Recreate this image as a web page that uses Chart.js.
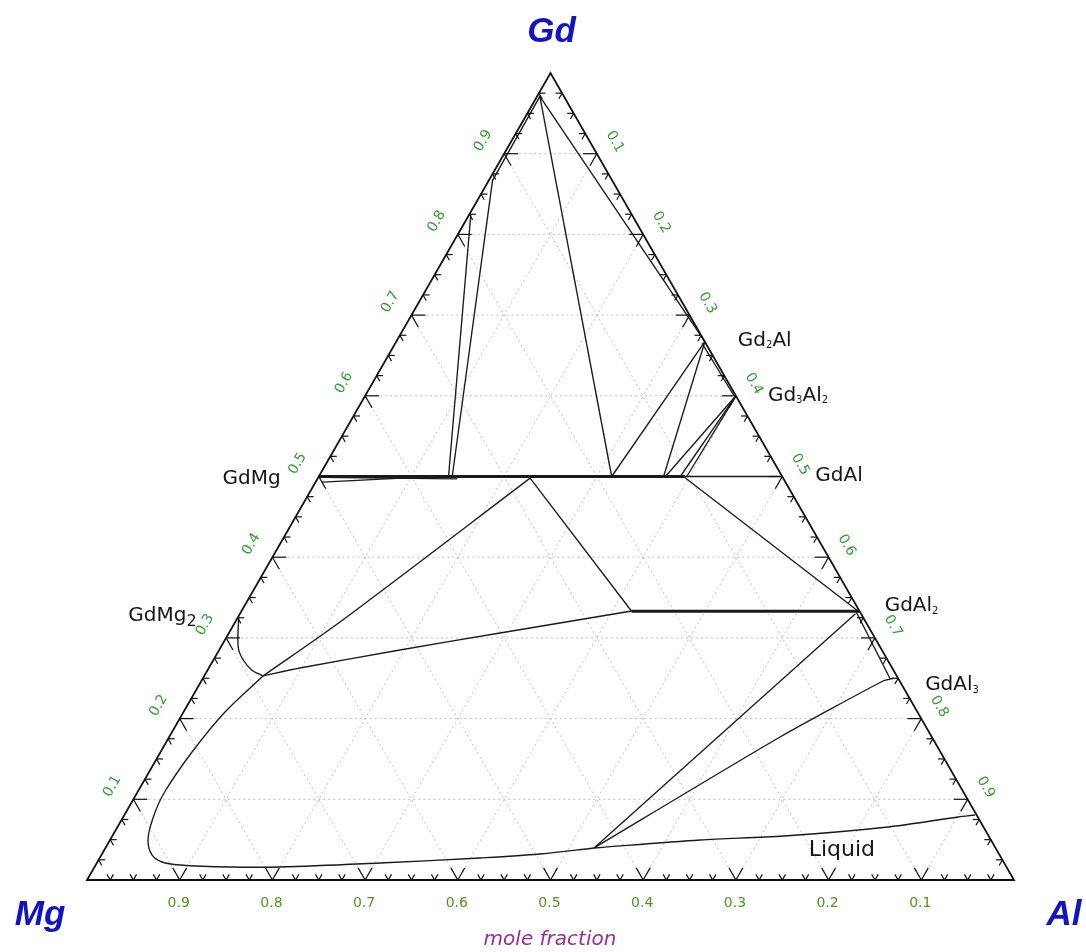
<!DOCTYPE html>
<html>
<head>
<meta charset="utf-8">
<script src="https://cdn.jsdelivr.net/npm/chart.js@4.4.0/dist/chart.umd.min.js"></script>
<style>
html, body { margin: 0; padding: 0; background: #fff; }
</style>
</head>
<body>
<canvas id="chart" width="1086" height="952"></canvas>
<script>
// Compositions are [x(Al), x(Gd)] mole fractions, x(Mg) = 1 - Al - Gd

// Compounds
const gdMg = [0, 0.5];
const gdMg2 = [0, 0.333];
const gd2Al = [0.333, 0.667];
const gd3Al2 = [0.4, 0.6];
const gdAl = [0.5, 0.5];
const gdAl2 = [0.667, 0.333];
const gdAl3 = [0.75, 0.25];
const liquidLabel = [0.76, 0.037];

// Thick tie lines
const tieHalf = [[0, 0.5], [0.395, 0.5]];
const tieThird = [[0.421, 0.333], [0.667, 0.333]];

// Thin boundary lines
const tieHalfTail = [[0.395, 0.5], [0.5, 0.5]];
const gdCornerA = [[0.002, 0.824], [0.140, 0.5]];
const gdCornerB = [[0.003, 0.972], [0.004, 0.867], [0.144, 0.5]];
const gdCornerC = [[0.003, 0.971], [0.316, 0.5]];
const gdCornerD = [[0.003, 0.971], [0.333, 0.667]];
const gd2AlFanA = [[0.333, 0.667], [0.316, 0.5]];
const gd2AlFanB = [[0.333, 0.667], [0.372, 0.5]];
const gd2AlEdge = [[0.331, 0.665], [0.397, 0.601]];
const gd3Al2FanA = [[0.4, 0.6], [0.374, 0.5]];
const gd3Al2FanB = [[0.4, 0.6], [0.390, 0.5]];
const gd3Al2FanC = [[0.4, 0.6], [0.397, 0.5]];
const gdMgFanA = [[0.001, 0.499], [0.151, 0.497]];
const gdMgFanB = [[0.007, 0.493], [0.106, 0.499]];
const halfToGdAl2 = [[0.395, 0.499], [0.664, 0.334]];
const halfToThird = [[0.229, 0.498], [0.421, 0.333]];
const gdMg2Curve = [[0.001, 0.325], [0.0195, 0.2875], [0.0323, 0.2726], [0.0476, 0.2602], [0.0635, 0.2528]];
const upperBranch = [[0.0635, 0.2528], [0.113, 0.3197], [0.229, 0.498]];
const lowerBranch = [[0.0635, 0.2528], [0.0984, 0.2627], [0.1951, 0.285], [0.2925, 0.3061], [0.421, 0.3333]];
const liquidusMg = [
    [0.0635, 0.2528], [0.0448, 0.2082], [0.034, 0.1586], [0.0292, 0.1078],
    [0.0328, 0.0768], [0.041, 0.0496], [0.0546, 0.031], [0.0697, 0.0223],
    [0.091, 0.0186], [0.1462, 0.0161], [0.2001, 0.0161], [0.3055, 0.0211],
    [0.4103, 0.0273], [0.4726, 0.0322], [0.5271, 0.0397]
];
const liquidusAl = [
    [0.5271, 0.0397], [0.6365, 0.0496], [0.7246, 0.0545], [0.8313, 0.0657],
    [0.9006, 0.0781], [0.9177, 0.0805]
];
const junctionToGdAl2 = [[0.5271, 0.0397], [0.664, 0.33]];
const junctionToGdAl3 = [[0.5271, 0.0397], [0.659, 0.1772], [0.7354, 0.2466], [0.745, 0.25]];
const gdAl2Edge = [[0.662, 0.334], [0.742, 0.249]];

// Axis ticks
const tickStep = 0.025;
const labelValues = [0.1, 0.2, 0.3, 0.4, 0.5, 0.6, 0.7, 0.8, 0.9];

function toXY(p) {
    return { x: p[0] + p[1] / 2, y: p[1] };
}

function line(points, width, tension) {
    return {
        data: points.map(toXY),
        showLine: true,
        borderColor: '#1a1a1a',
        borderWidth: width || 1.35,
        pointRadius: 0,
        pointHoverRadius: 0,
        tension: tension || 0,
        fill: false,
        clip: false
    };
}

// pixel position of a composition
function pos(chart, al, gd) {
    return [chart.scales.x.getPixelForValue(al + gd / 2), chart.scales.y.getPixelForValue(gd)];
}

function seg(ctx, chart, a, b) {
    const p = pos(chart, a[0], a[1]);
    const q = pos(chart, b[0], b[1]);
    ctx.beginPath();
    ctx.moveTo(p[0], p[1]);
    ctx.lineTo(q[0], q[1]);
    ctx.stroke();
}

function drawRich(ctx, parts, x, y, align) {
    ctx.textAlign = 'left';
    let w = 0;
    parts.forEach(p => {
        ctx.font = p[1] + 'px "DejaVu Sans"';
        w += ctx.measureText(p[0]).width;
    });
    let cx = align === 'right' ? x - w : x;
    parts.forEach(p => {
        ctx.font = p[1] + 'px "DejaVu Sans"';
        ctx.fillText(p[0], cx, y + (p[2] || 0));
        cx += ctx.measureText(p[0]).width;
    });
}

const phaseLabels = [
    { at: gd2Al, dx: 33, dy: -1, align: 'left', parts: [['Gd', 20], ['2', 10, 5], ['Al', 20]] },
    { at: gd3Al2, dx: 32, dy: 0, align: 'left', parts: [['Gd', 20], ['3', 10, 5], ['Al', 20], ['2', 10, 5]] },
    { at: gdAl, dx: 33, dy: -1, align: 'left', parts: [['GdAl', 20]] },
    { at: gdMg, dx: -38, dy: 2, align: 'right', parts: [['GdMg', 20]] },
    { at: gdMg2, dx: -113, dy: 5, align: 'left', parts: [['GdMg', 20], ['2', 16, 6]] },
    { at: gdAl2, dx: 25, dy: -5, align: 'left', parts: [['GdAl', 20], ['2', 10, 5]] },
    { at: gdAl3, dx: 27, dy: 7, align: 'left', parts: [['GdAl', 20], ['3', 10, 5]] },
    { at: liquidLabel, dx: 0, dy: 0, align: 'left', parts: [['Liquid', 22]] }
];

const ternaryPlugin = {
    id: 'ternary',
    beforeDatasetsDraw(chart) {
        const ctx = chart.ctx;
        ctx.save();
        ctx.strokeStyle = '#bdbdbd';
        ctx.lineWidth = 1;
        ctx.setLineDash([2, 3]);
        labelValues.forEach(v => {
            seg(ctx, chart, [0, v], [1 - v, v]);
            seg(ctx, chart, [v, 0], [v, 1 - v]);
            seg(ctx, chart, [1 - v, 0], [0, 1 - v]);
        });
        ctx.restore();
    },
    afterDatasetsDraw(chart) {
        const ctx = chart.ctx;
        ctx.save();
        // triangle
        ctx.strokeStyle = '#111';
        ctx.lineWidth = 1.8;
        ctx.lineJoin = 'miter';
        const a = pos(chart, 0, 0), b = pos(chart, 1, 0), c = pos(chart, 0, 1);
        ctx.beginPath();
        ctx.moveTo(a[0], a[1]);
        ctx.lineTo(b[0], b[1]);
        ctx.lineTo(c[0], c[1]);
        ctx.closePath();
        ctx.stroke();

        // ticks
        ctx.lineWidth = 1.2;
        for (let i = 1; i < 40; i++) {
            const v = i * tickStep;
            const L = i % 4 === 0 ? 0.015 : 0.007;
            seg(ctx, chart, [0, v], [L, v]);
            seg(ctx, chart, [0, v], [L, v - L]);
            seg(ctx, chart, [v, 0], [v, L]);
            seg(ctx, chart, [v, 0], [v - L, L]);
            seg(ctx, chart, [v, 1 - v], [v - L, 1 - v]);
            seg(ctx, chart, [v, 1 - v], [v, 1 - v - L]);
        }

        // tick labels
        ctx.textAlign = 'center';
        ctx.textBaseline = 'middle';
        ctx.font = '14px "DejaVu Sans"';
        labelValues.forEach(v => {
            let p = pos(chart, 0, v);
            ctx.fillStyle = '#30a030';
            ctx.save();
            ctx.translate(p[0] - 21, p[1] - 13);
            ctx.rotate(-Math.PI / 3);
            ctx.fillText(v.toFixed(1), 0, 0);
            ctx.restore();

            p = pos(chart, v, 1 - v);
            ctx.save();
            ctx.translate(p[0] + 18, p[1] - 12);
            ctx.rotate(Math.PI / 3);
            ctx.fillText(v.toFixed(1), 0, 0);
            ctx.restore();

            p = pos(chart, v, 0);
            ctx.fillStyle = '#4c9a1c';
            ctx.fillText((1 - v).toFixed(1), p[0] - 1, p[1] + 23);
        });

        // compound labels
        ctx.fillStyle = '#151515';
        ctx.textBaseline = 'middle';
        phaseLabels.forEach(l => {
            const p = pos(chart, l.at[0], l.at[1]);
            drawRich(ctx, l.parts, p[0] + l.dx, p[1] + l.dy, l.align);
        });

        // element names and axis title
        ctx.textAlign = 'center';
        ctx.fillStyle = '#1212c6';
        ctx.font = 'bold italic 35px "Liberation Sans"';
        ctx.fillText('Gd', c[0] + 1, c[1] - 41);
        ctx.fillText('Mg', 40, 915);
        ctx.fillText('Al', 1064, 915);
        ctx.fillStyle = '#9a2c9a';
        ctx.font = 'italic 20px "DejaVu Sans"';
        ctx.fillText('mole fraction', 550, 940);
        ctx.restore();
    }
};

new Chart(document.getElementById('chart'), {
    type: 'scatter',
    data: {
        datasets: [
            line(tieHalf, 3),
            line(tieThird, 3),
            line(tieHalfTail),
            line(gdCornerA),
            line(gdCornerB),
            line(gdCornerC),
            line(gdCornerD),
            line(gd2AlFanA),
            line(gd2AlFanB),
            line(gd2AlEdge),
            line(gd3Al2FanA),
            line(gd3Al2FanB),
            line(gd3Al2FanC),
            line(gdMgFanA),
            line(gdMgFanB),
            line(halfToGdAl2),
            line(halfToThird),
            line(gdMg2Curve, 1.35, 0.4),
            line(upperBranch, 1.35, 0.3),
            line(lowerBranch, 1.35, 0.3),
            line(liquidusMg, 1.35, 0.35),
            line(liquidusAl, 1.35, 0.3),
            line(junctionToGdAl2),
            line(junctionToGdAl3, 1.35, 0.2),
            line(gdAl2Edge)
        ]
    },
    options: {
        responsive: false,
        animation: false,
        events: [],
        layout: { padding: { left: 87, right: 72, top: 73, bottom: 72 } },
        scales: {
            x: { type: 'linear', min: 0, max: 1, display: false },
            y: { type: 'linear', min: 0, max: 1, display: false }
        },
        plugins: {
            legend: { display: false },
            tooltip: { enabled: false }
        }
    },
    plugins: [ternaryPlugin]
});
</script>
</body>
</html>
